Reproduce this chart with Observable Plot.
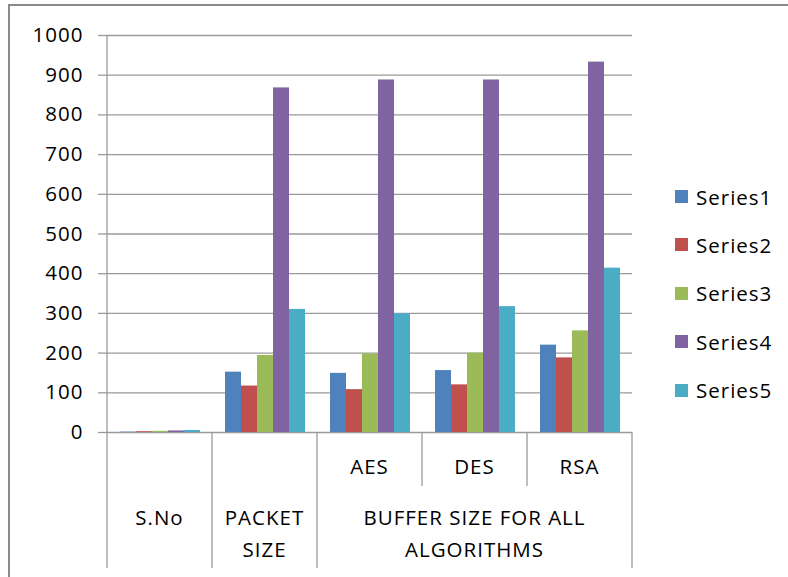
<!DOCTYPE html>
<html>
<head>
<meta charset="utf-8">
<script src="https://cdn.jsdelivr.net/npm/d3@7"></script>
<script src="https://cdn.jsdelivr.net/npm/@observablehq/plot@0.6"></script>
<style>
  html, body { margin: 0; padding: 0; background: #fff; }
  body { width: 788px; height: 577px; overflow: hidden; position: relative; font-family: "Open Sans", sans-serif; }
  #frame { position: absolute; left: 8px; top: 4px; width: 840px; height: 640px; border: 2px solid #8a8a8a; box-sizing: border-box; }
  #chart { position: absolute; left: 0; top: 0; }
  #chart svg text { letter-spacing: 1px; }
  .lg-row { position: absolute; left: 675px; height: 20px; display: flex; align-items: center; font-size: 20.5px; letter-spacing: 1px; color: #000; white-space: nowrap; }
  .lg-sw { width: 13px; height: 13px; margin-right: 8px; flex: none; }
</style>
</head>
<body>
<div id="frame"></div>
<div id="chart"></div>
<div id="legend"></div>
<script>
// ---- data ----
const categories = ["S.No", "PACKET SIZE", "AES", "DES", "RSA"];
const seriesNames = ["Series1", "Series2", "Series3", "Series4", "Series5"];
const series1 = [1, 152, 149, 156, 220];
const series2 = [2, 117, 108, 120, 188];
const series3 = [3, 194, 198, 200, 256];
const series4 = [4, 868, 888, 888, 933];
const series5 = [5, 310, 299, 317, 414];
const colors = ["#4F81BD", "#C0504D", "#9BBB59", "#8064A2", "#4BACC6"];
const yTicks = [0, 100, 200, 300, 400, 500, 600, 700, 800, 900, 1000];
// multi-level category labels
const groups = [
  { lines: ["S.No"], members: ["S.No"] },
  { lines: ["PACKET", "SIZE"], members: ["PACKET SIZE"] },
  { lines: ["BUFFER SIZE FOR ALL", "ALGORITHMS"], members: ["AES", "DES", "RSA"] }
];

const values = [series1, series2, series3, series4, series5];
const data = categories.flatMap((c, i) =>
  seriesNames.map((s, j) => ({ category: c, series: s, value: values[j][i] }))
);

const lineColor = "#9a9a9a";
const fontSize = 20.5;

const chart = Plot.plot({
  width: 640,
  height: 577,
  marginLeft: 106,
  marginRight: 8,
  marginTop: 35,
  marginBottom: 145,
  style: { fontFamily: '"Open Sans", sans-serif', fontSize: fontSize + "px", color: "#000", background: "transparent", overflow: "visible" },
  fx: { domain: categories, padding: 0, axis: null },
  x: { domain: seriesNames, paddingInner: 0, paddingOuter: 0.77, axis: null },
  y: { domain: [0, 1000], axis: null },
  color: { domain: seriesNames, range: colors },
  marks: [
    Plot.gridY(yTicks, { stroke: lineColor, strokeOpacity: 1, strokeWidth: 1.3 }),
    Plot.barY(data, { fx: "category", x: "series", y: "value", fill: "series" }),
    Plot.axisY({ ticks: yTicks, tickSize: 9, tickPadding: 15, stroke: lineColor, strokeWidth: 1.3, fill: "#000", fontSize: fontSize, label: null, tickFormat: d => String(d) })
  ]
});
document.getElementById("chart").appendChild(chart);

// ---- multi-level category table below the axis ----
const fx = chart.scale("fx");
const ys = chart.scale("y");
const svg = d3.select(chart);
const yBase = ys.apply(0);
const yTop = ys.apply(1000);
const rowSub = 54;      // height of AES/DES/RSA row
const tableH = 136;     // total table height
const bw = fx.bandwidth;
const start = c => fx.apply(c);

const lines = svg.append("g").attr("stroke", lineColor).attr("stroke-width", 1.3);
// left axis line through the table
lines.append("line").attr("x1", start(categories[0])).attr("x2", start(categories[0]))
  .attr("y1", yTop).attr("y2", yBase + tableH);
groups.forEach(g => {
  const last = g.members[g.members.length - 1];
  const xr = start(last) + bw;
  lines.append("line").attr("x1", xr).attr("x2", xr).attr("y1", yBase).attr("y2", yBase + tableH);
  if (g.members.length > 1) {
    g.members.slice(0, -1).forEach(m => {
      const xm = start(m) + bw;
      lines.append("line").attr("x1", xm).attr("x2", xm).attr("y1", yBase).attr("y2", yBase + rowSub);
    });
  }
});

const texts = svg.append("g").attr("fill", "#000").attr("font-size", fontSize).attr("text-anchor", "middle")
  .style("font-family", '"Open Sans", sans-serif');
groups.forEach(g => {
  const x0 = start(g.members[0]);
  const x1 = start(g.members[g.members.length - 1]) + bw;
  const cx = (x0 + x1) / 2;
  if (g.members.length > 1) {
    g.members.forEach(m => {
      texts.append("text").attr("x", start(m) + bw / 2).attr("y", yBase + 35).attr("dy", "0.36em").text(m);
    });
  }
  g.lines.forEach((t, k) => {
    texts.append("text").attr("x", cx).attr("y", yBase + 86 + k * 32).attr("dy", "0.36em").text(t);
  });
});

// ---- legend ----
const legend = document.getElementById("legend");
seriesNames.forEach((s, i) => {
  const row = document.createElement("div");
  row.className = "lg-row";
  row.style.top = (196.5 - 10 + i * 48.4) + "px";
  const sw = document.createElement("span");
  sw.className = "lg-sw";
  sw.style.background = colors[i];
  const tx = document.createElement("span");
  tx.textContent = s;
  row.appendChild(sw);
  row.appendChild(tx);
  legend.appendChild(row);
});
</script>
</body>
</html>
